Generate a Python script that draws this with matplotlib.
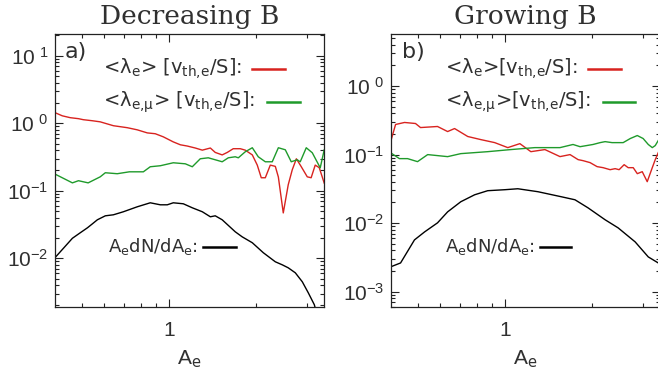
import numpy as np
import matplotlib
matplotlib.use("Agg")
import matplotlib.pyplot as plt
from matplotlib.ticker import LogLocator, FixedLocator, NullFormatter, FuncFormatter
from matplotlib.lines import Line2D

# ---------------- data ----------------
# Panel a) decreasing B
dec_lam_x = [0.406, 0.429, 0.457, 0.488, 0.507, 0.545, 0.580, 0.644, 0.719, 0.778,
             0.843, 0.898, 0.957, 1.036, 1.096, 1.158, 1.234, 1.305, 1.391, 1.446,
             1.528, 1.591, 1.668, 1.764, 1.835, 1.941, 2.019, 2.084, 2.152, 2.239,
             2.330, 2.387, 2.482, 2.582, 2.666, 2.754, 2.864, 3.003, 3.097, 3.199,
             3.303, 3.436]
dec_lam_y = [1.43, 1.29, 1.21, 1.17, 1.13, 1.09, 1.05, 0.92, 0.86, 0.80,
             0.72, 0.70, 0.63, 0.53, 0.48, 0.46, 0.43, 0.40, 0.43, 0.37,
             0.34, 0.37, 0.42, 0.42, 0.40, 0.34, 0.24, 0.156, 0.156, 0.24,
             0.23, 0.16, 0.047, 0.123, 0.205, 0.298, 0.227, 0.161, 0.156, 0.24,
             0.22, 0.13]

dec_lmu_x = [0.409, 0.429, 0.465, 0.488, 0.527, 0.580, 0.604, 0.664, 0.731, 0.817,
             0.863, 0.935, 1.036, 1.140, 1.205, 1.284, 1.368, 1.446, 1.528, 1.604,
             1.695, 1.737, 1.835, 1.941, 2.035, 2.152, 2.274, 2.387, 2.522, 2.644,
             2.773, 2.840, 2.979, 3.125, 3.329, 3.436]
dec_lmu_y = [0.173, 0.156, 0.131, 0.141, 0.131, 0.161, 0.185, 0.179, 0.191, 0.191,
             0.227, 0.235, 0.260, 0.251, 0.227, 0.298, 0.308, 0.288, 0.269, 0.308,
             0.319, 0.308, 0.378, 0.434, 0.319, 0.269, 0.269, 0.434, 0.405, 0.269,
             0.288, 0.269, 0.434, 0.366, 0.219, 0.405]

dec_dist_x = [0.406, 0.433, 0.465, 0.495, 0.524, 0.545, 0.567, 0.604, 0.644, 0.697,
              0.778, 0.863, 0.935, 0.988, 1.036, 1.122, 1.205, 1.305, 1.391, 1.446,
              1.528, 1.695, 1.791, 1.941, 2.118, 2.330, 2.462, 2.582, 2.731, 2.887,
              3.028, 3.177, 3.279]
dec_dist_y = [0.01035, 0.01407, 0.0198, 0.0239, 0.0283, 0.0324, 0.0372, 0.0426, 0.0441, 0.0489,
              0.0579, 0.0664, 0.0620, 0.0620, 0.0664, 0.0642, 0.0560, 0.0489, 0.0412, 0.0426,
              0.0372, 0.0247, 0.0208, 0.0170, 0.0121, 0.00888, 0.00801, 0.00723, 0.00610, 0.00449,
              0.00308, 0.00205, 0.00123]

# Panel b) growing B
gro_lam_x = [0.403, 0.420, 0.451, 0.492, 0.512, 0.586, 0.635, 0.671, 0.745, 0.826,
             0.923, 1.024, 1.127, 1.230, 1.375, 1.550, 1.679, 1.790, 1.861, 1.968,
             2.081, 2.183, 2.308, 2.402, 2.479, 2.580, 2.664, 2.773, 2.864, 2.979,
             3.099, 3.226, 3.303, 3.383]
gro_lam_y = [0.149, 0.274, 0.293, 0.283, 0.247, 0.256, 0.216, 0.239, 0.183, 0.165,
             0.149, 0.126, 0.144, 0.110, 0.118, 0.0932, 0.0997, 0.0842, 0.0814, 0.0762,
             0.0666, 0.0643, 0.0601, 0.0622, 0.0601, 0.0711, 0.0643, 0.0643, 0.0526, 0.0562,
             0.0402, 0.0643, 0.0842, 0.1066]

gro_lmu_x = [0.403, 0.433, 0.462, 0.500, 0.542, 0.635, 0.705, 0.873, 1.049, 1.270,
             1.550, 1.719, 1.818, 2.015, 2.132, 2.218, 2.344, 2.560, 2.709, 2.864,
             3.000, 3.125, 3.226, 3.303, 3.383]
gro_lmu_y = [0.1066, 0.0871, 0.0871, 0.0787, 0.0997, 0.0931, 0.103, 0.110, 0.118, 0.126,
             0.126, 0.140, 0.130, 0.140, 0.149, 0.154, 0.149, 0.149, 0.171, 0.189,
             0.171, 0.140, 0.126, 0.135, 0.160]

gro_dist_x = [0.403, 0.437, 0.488, 0.529, 0.586, 0.635, 0.705, 0.787, 0.873, 1.000,
              1.109, 1.301, 1.562, 1.746, 1.937, 2.218, 2.460, 2.816, 3.125, 3.383]
gro_dist_y = [0.0023, 0.00263, 0.0057, 0.00746, 0.0101, 0.0146, 0.0205, 0.0259, 0.0297, 0.0307,
              0.0317, 0.0287, 0.0243, 0.0219, 0.0167, 0.0112, 0.00853, 0.00533, 0.00322, 0.00263]

titles = ["Decreasing B", "Growing B"]
panel_tags = ["a)", "b)"]
lam_labels = [r"<λ$_{\rm e}$> [v$_{\rm th{,}e}$/S]:", r"<λ$_{\rm e}$>[v$_{\rm th{,}e}$/S]:"]
lmu_labels = [r"<λ$_{\rm e{,}\mu}$> [v$_{\rm th{,}e}$/S]:", r"<λ$_{\rm e{,}\mu}$>[v$_{\rm th{,}e}$/S]:"]
dist_label = r"A$_{\rm e}$dN/dA$_{\rm e}$:"

RED = "#d8231f"
GREEN = "#1f9a2b"
TXT = "#303030"

plt.rcParams["font.family"] = ["Liberation Sans", "DejaVu Sans"]
plt.rcParams["mathtext.fontset"] = "custom"
plt.rcParams["mathtext.rm"] = "DejaVu Sans"
plt.rcParams["mathtext.it"] = "DejaVu Sans:italic"
plt.rcParams["mathtext.bf"] = "DejaVu Sans:bold"
plt.rcParams["mathtext.sf"] = "Liberation Sans"

fig = plt.figure(figsize=(6.58, 3.77), dpi=100)
W, H = 658.0, 377.0
ax_w = 269 / W
ax_h = 273 / H
ax_b = 1 - 307 / H
axA = fig.add_axes([55 / W, ax_b, ax_w, ax_h])
axB = fig.add_axes([391 / W, ax_b, ax_w, ax_h])


def ylab(v, pos):
    e = int(np.round(np.log10(v)))
    if e >= 0:
        return r"$\mathsf{10^{\ %d}}$" % e
    return r"$\mathsf{10^{-%d}}$" % (-e)


def style(ax, ylim):
    ax.set_xscale("log")
    ax.set_yscale("log")
    ax.set_xlim(0.405, 3.43)
    ax.set_ylim(*ylim)
    ax.xaxis.set_major_locator(FixedLocator([1.0]))
    ax.xaxis.set_major_formatter(FuncFormatter(lambda v, p: "1"))
    ax.xaxis.set_minor_locator(FixedLocator([0.5, 0.6, 0.7, 0.8, 0.9, 2.0, 3.0]))
    ax.xaxis.set_minor_formatter(NullFormatter())
    ax.yaxis.set_major_locator(LogLocator(base=10, numticks=20))
    ax.yaxis.set_minor_locator(LogLocator(base=10, subs=np.arange(2, 10), numticks=20))
    ax.yaxis.set_major_formatter(FuncFormatter(ylab))
    ax.yaxis.set_minor_formatter(NullFormatter())
    ax.tick_params(which="both", direction="in", top=True, right=True,
                   colors="#222222", labelcolor=TXT, labelsize=15, width=0.8)
    ax.tick_params(which="major", length=6, pad=5)
    ax.tick_params(which="minor", length=3)
    ax.tick_params(axis="x", which="major", pad=10)
    for s in ax.spines.values():
        s.set_linewidth(0.9)
        s.set_color("#222222")
    ax.set_xlabel(r"A$_{\rm e}$", fontsize=15, color=TXT, labelpad=6)


panels = [
    (axA, (0.0019, 21.0), dec_lam_x, dec_lam_y, dec_lmu_x, dec_lmu_y, dec_dist_x, dec_dist_y,
     0.178, 0.197, [(0.732, 0.855), (0.788, 0.911), (0.550, 0.673)]),
    (axB, (6.0e-4, 5.7), gro_lam_x, gro_lam_y, gro_lmu_x, gro_lmu_y, gro_dist_x, gro_dist_y,
     0.201, 0.201, [(0.732, 0.855), (0.788, 0.907), (0.554, 0.669)]),
]

for i, (ax, ylim, lx, ly, mx, my, dx, dy, tx, dtx, segs) in enumerate(panels):
    style(ax, ylim)
    ax.plot(lx, ly, color=RED, lw=1.0)
    ax.plot(mx, my, color=GREEN, lw=1.0)
    ax.plot(dx, dy, color="black", lw=1.0)
    ax.set_title(titles[i], family="DejaVu Serif", fontsize=19, color=TXT, pad=7)

    ax.text(0.037 if i == 0 else 0.041, 0.934, panel_tags[i], transform=ax.transAxes,
            family="DejaVu Sans", fontsize=16, color=TXT, ha="left", va="center")
    ax.text(tx, 0.872, lam_labels[i], transform=ax.transAxes, family="DejaVu Sans",
            fontsize=14, color=TXT, ha="left", va="center")
    ax.text(tx, 0.751, lmu_labels[i], transform=ax.transAxes, family="DejaVu Sans",
            fontsize=14, color=TXT, ha="left", va="center")
    ax.text(dtx, 0.220, dist_label, transform=ax.transAxes, family="DejaVu Sans",
            fontsize=13, color=TXT, ha="left", va="center")
    for (x0, x1), yy, c in zip(segs, [0.872, 0.751, 0.220], [RED, GREEN, "black"]):
        ax.add_line(Line2D([x0, x1], [yy, yy], transform=ax.transAxes, color=c, lw=1.8))

fig.savefig("out.png", dpi=100)
